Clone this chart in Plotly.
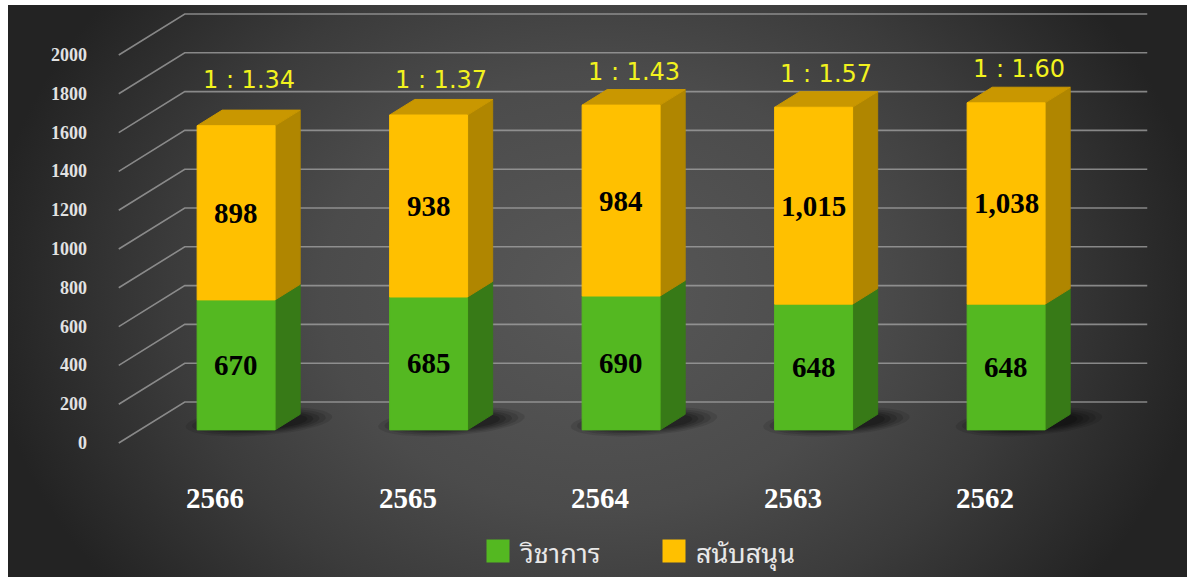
import numpy as np
import plotly.graph_objects as go

# ---------------- data ----------------
years = ["2566", "2565", "2564", "2563", "2562"]
academic = [670, 685, 690, 648, 648]        # วิชาการ
support = [898, 938, 984, 1015, 1038]       # สนับสนุน
series_names = ["วิชาการ", "สนับสนุน"]
y_ticks = [0, 200, 400, 600, 800, 1000, 1200, 1400, 1600, 1800, 2000]

# ---------------- style ----------------
GREEN_FRONT, GREEN_SIDE = "#54B821", "#377A17"
ORANGE_FRONT, ORANGE_SIDE, ORANGE_TOP = "#FFC000", "#B08600", "#C99700"
GRID = "rgba(165,165,165,0.75)"
SERIF = "Liberation Serif, Times New Roman, serif"
THAI = ("Noto Sans Thai Looped, Noto Serif Thai, Loma, Garuda, Norasi, Kinnari, "
        "Tlwg Typo, Noto Sans Thai, sans-serif")

# ---------------- geometry (layout only) ----------------
W, H = 1187, 577
ML, MT = 8, 5
PX_PER_CAT = 192.5
X0_PX = 215.0
PX_PER_VAL = 0.194
Y0_PX = 443.0
DX = 66.0 / PX_PER_CAT          # depth shift in category units
DY = 41.0 / PX_PER_VAL          # depth shift in value units
D0, D1 = 0.32, 0.70             # bar front / back depth
BAR_W = 0.405

x_range = [(ML - X0_PX) / PX_PER_CAT, (W - X0_PX) / PX_PER_CAT]
y_range = [(Y0_PX - H) / PX_PER_VAL, (Y0_PX - MT) / PX_PER_VAL]


def proj(i, v, d):
    return i + d * DX, v + d * DY


def px2data(px, py):
    return (px - X0_PX) / PX_PER_CAT, (Y0_PX - py) / PX_PER_VAL


def poly_trace(polys, color, opacity=1.0, line=True):
    xs, ys = [], []
    for p in polys:
        for (a, b) in p:
            xs.append(a)
            ys.append(b)
        xs.append(p[0][0]); ys.append(p[0][1])
        xs.append(None); ys.append(None)
    return go.Scatter(
        x=xs, y=ys, mode="lines", fill="toself", fillcolor=color,
        line=dict(color=color, width=1 if line else 0), opacity=opacity,
        hoverinfo="skip", showlegend=False,
    )


fig = go.Figure()

# background with radial gradient (taller than the visible area so the
# top and bottom edges stay lighter than the left/right edges)
xspan = x_range[1] - x_range[0]
yspan = y_range[1] - y_range[0]
bx0, bx1 = x_range[0] - 0.02 * xspan, x_range[1] + 0.02 * xspan
by0, by1 = y_range[0] - 0.35 * yspan, y_range[1] + 0.35 * yspan
fig.add_trace(go.Scatter(
    x=[bx0, bx1, bx1, bx0, bx0], y=[by0, by0, by1, by1, by0],
    mode="lines", fill="toself", line=dict(width=0),
    fillgradient=dict(type="radial",
                      colorscale=[[0, "#585858"], [0.45, "#4b4b4b"],
                                  [0.7, "#3b3b3b"], [1, "#232323"]]),
    hoverinfo="skip", showlegend=False,
))

# 3D grid: diagonals on side wall + horizontals on back wall
n = len(years)
wall_l, wall_r = -0.5, n - 0.5
gx, gy = [], []
for t in y_ticks:
    a = proj(wall_l, t, 0); b = proj(wall_l, t, 1); c = proj(wall_r, t, 1)
    gx += [a[0], b[0], c[0], None]
    gy += [a[1], b[1], c[1], None]
fig.add_trace(go.Scatter(x=gx, y=gy, mode="lines", line=dict(color=GRID, width=1.6),
                         hoverinfo="skip", showlegend=False))

# soft shadows under bars (floor plane ellipses, layered)
t = np.linspace(0, 2 * np.pi, 60)
for (a, b, op) in [(0.36, 0.36, 0.10), (0.33, 0.32, 0.12), (0.30, 0.28, 0.14),
                   (0.27, 0.25, 0.16), (0.24, 0.22, 0.18)]:
    polys = []
    for i in range(n):
        pts = [proj(i + 0.05 + a * np.cos(tt), 0, 0.52 + b * np.sin(tt)) for tt in t]
        polys.append(pts)
    fig.add_trace(poly_trace(polys, "#000000", opacity=op, line=False))

# bars
hw = BAR_W / 2
gf, gs, of, osd, ot = [], [], [], [], []
for i in range(n):
    segs = [(0, academic[i], gf, gs), (academic[i], academic[i] + support[i], of, osd)]
    for (v0, v1, front, side) in segs:
        front.append([proj(i - hw, v0, D0), proj(i + hw, v0, D0),
                      proj(i + hw, v1, D0), proj(i - hw, v1, D0)])
        side.append([proj(i + hw, v0, D0), proj(i + hw, v0, D1),
                     proj(i + hw, v1, D1), proj(i + hw, v1, D0)])
    top = academic[i] + support[i]
    ot.append([proj(i - hw, top, D0), proj(i + hw, top, D0),
               proj(i + hw, top, D1), proj(i - hw, top, D1)])

fig.add_trace(poly_trace(gs, GREEN_SIDE))
fig.add_trace(poly_trace(gf, GREEN_FRONT))
fig.add_trace(poly_trace(osd, ORANGE_SIDE))
fig.add_trace(poly_trace(ot, ORANGE_TOP))
fig.add_trace(poly_trace(of, ORANGE_FRONT))

annotations = []
for i in range(n):
    # value labels on bar fronts
    for (v0, v1) in [(0, academic[i]), (academic[i], academic[i] + support[i])]:
        x, y = proj(i, (v0 + v1) / 2, D0)
        annotations.append(dict(
            x=x, y=y, text=f"{v1 - v0:,}", showarrow=False,
            font=dict(family=SERIF, size=29, color="#000000", weight="bold"),
            xanchor="center", yanchor="middle"))
    # ratio labels
    total = academic[i] + support[i]
    x, _ = proj(i, total, (D0 + D1) / 2)
    annotations.append(dict(
        x=x, y=max(total + 240, 1870), text=f"1 : {support[i] / academic[i]:.2f}",
        showarrow=False, font=dict(family="DejaVu Sans, Verdana, sans-serif", size=24,
                                   color="#F2F21E"),
        xanchor="center", yanchor="middle"))
    # category labels
    annotations.append(dict(
        x=i, y=px2data(0, 498)[1], text=years[i], showarrow=False,
        font=dict(family=SERIF, size=29, color="#FFFFFF", weight="bold"),
        xanchor="center", yanchor="middle"))

# y tick labels
for tv in y_ticks:
    annotations.append(dict(
        x=px2data(89, 0)[0], y=tv, text=str(tv), showarrow=False,
        font=dict(family=SERIF, size=18, color="#E2E2E2", weight="bold"),
        xanchor="right", yanchor="middle"))

# manual legend
leg_colors = [GREEN_FRONT, ORANGE_FRONT]
leg_sq_px = [498, 674]
leg_txt_px = [517, 694]
for name, col, sqx, tx in zip(series_names, leg_colors, leg_sq_px, leg_txt_px):
    sx, sy = px2data(sqx, 551)
    fig.add_trace(go.Scatter(x=[sx], y=[sy], mode="markers",
                             marker=dict(symbol="square", size=23, color=col,
                                         line=dict(width=0)),
                             hoverinfo="skip", showlegend=False))
    lx, ly = px2data(tx, 550)
    annotations.append(dict(
        x=lx, y=ly, text=name, showarrow=False,
        font=dict(family=THAI, size=27, color="#E8E8E8"),
        xanchor="left", yanchor="middle"))

fig.update_layout(
    width=W, height=H,
    margin=dict(l=ML, r=0, t=MT, b=0, pad=0),
    paper_bgcolor="#FFFFFF", plot_bgcolor="#2a2a2a",
    showlegend=False,
    hovermode=False,
    xaxis=dict(range=x_range, visible=False, fixedrange=True),
    yaxis=dict(range=y_range, visible=False, fixedrange=True),
    annotations=annotations,
)

fig.write_html("out.html",
               config={"displayModeBar": False},
               post_script="document.body.style.margin='0';document.body.style.overflow='hidden';")
